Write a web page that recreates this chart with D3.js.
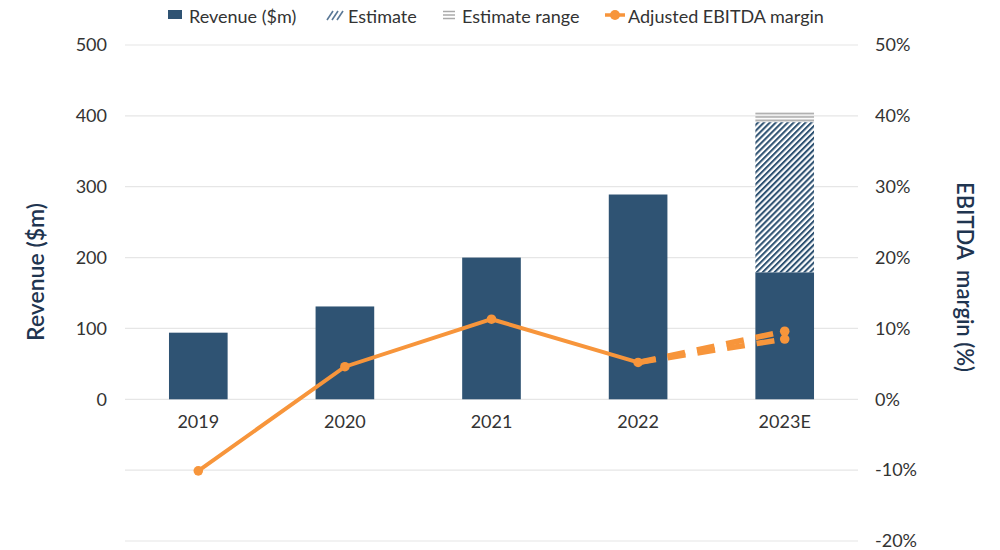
<!DOCTYPE html>
<html><head><meta charset="utf-8">
<script src="https://cdn.jsdelivr.net/npm/d3@7"></script>
<style>body{margin:0;background:#fff;font-family:Lato,"Noto Sans",sans-serif;}</style>
</head><body><svg id="c" width="1000" height="550"></svg>
<script>
const categories = ["2019","2020","2021","2022","2023E"];
const revenue = [94, 131, 200, 289, 179];
const estimateTop = [null, null, null, null, 391];
const rangeTop = [null, null, null, null, 405];
const margin = [-10.1, 4.6, 11.3, 5.2, null];
const marginEstimate = [9.6, 8.5];
const leftTicks = [0, 100, 200, 300, 400, 500];
const rightTicks = [-20, -10, 0, 10, 20, 30, 40, 50];

const svg = d3.select("#c");
const L = 125, R = 858, T = 45, B = 541;
const x = d3.scaleBand().domain(categories).range([L, R]).paddingInner(0.6).paddingOuter(0.3);
const y = d3.scaleLinear().domain([-200, 500]).range([B, T]);
const y2 = d3.scaleLinear().domain([-20, 50]).range([B, T]);
const barColor = "#2f5373", orange = "#f7953b", txt = "#333";

const defs = svg.append("defs");
const hp = defs.append("pattern").attr("id","hatch").attr("patternUnits","userSpaceOnUse")
  .attr("width",4.2).attr("height",4.2).attr("patternTransform","rotate(45)");
hp.append("rect").attr("width",4.2).attr("height",4.2).attr("fill","#fff");
hp.append("line").attr("x1",1).attr("y1",0).attr("x2",1).attr("y2",4.2).attr("stroke",barColor).attr("stroke-width",2.1);
const rp = defs.append("pattern").attr("id","range").attr("patternUnits","userSpaceOnUse")
  .attr("width",4).attr("height",3.5);
rp.append("rect").attr("width",4).attr("height",3.5).attr("fill","#fff");
rp.append("rect").attr("y",0.5).attr("width",4).attr("height",1.8).attr("fill","#aaa");

// grid
svg.append("g").selectAll("line").data(rightTicks).join("line")
  .attr("x1",L).attr("x2",R).attr("y1",d=>y2(d)).attr("y2",d=>y2(d))
  .attr("stroke","#e6e6e6").attr("stroke-width",1.2);

// axes
const ax = svg.append("g").attr("transform",`translate(107,0)`)
  .call(d3.axisLeft(y).tickValues(leftTicks).tickSize(0).tickPadding(0));
const ax2 = svg.append("g").attr("transform",`translate(875,0)`)
  .call(d3.axisRight(y2).tickValues(rightTicks).tickSize(0).tickPadding(0).tickFormat(d=>d+"%"));
const axx = svg.append("g").attr("transform",`translate(0,${y(0)})`)
  .call(d3.axisBottom(x).tickSize(0).tickPadding(16));
[ax,ax2,axx].forEach(a=>{a.select(".domain").remove();
  a.selectAll("text").attr("fill",txt).style("font-size","18px").style("font-family","Lato");});

// bars
const bw = x.bandwidth();
svg.append("g").selectAll("rect.r").data(categories.map((c,i)=>({c,v:rangeTop[i],b:estimateTop[i]}))
  .filter(d=>d.v!=null)).join("rect")
  .attr("x",d=>x(d.c)).attr("width",bw).attr("y",d=>y(d.v)).attr("height",d=>y(d.b)-y(d.v)).attr("fill","url(#range)");
svg.append("g").selectAll("rect.e").data(categories.map((c,i)=>({c,v:estimateTop[i],b:revenue[i]}))
  .filter(d=>d.v!=null)).join("rect")
  .attr("x",d=>x(d.c)).attr("width",bw).attr("y",d=>y(d.v)).attr("height",d=>y(d.b)-y(d.v)).attr("fill","url(#hatch)");
svg.append("g").selectAll("rect").data(categories.map((c,i)=>({c,v:revenue[i]}))).join("rect")
  .attr("x",d=>x(d.c)).attr("width",bw).attr("y",d=>y(d.v)).attr("height",d=>y(0)-y(d.v)).attr("fill",barColor);

// line
const cx = c => x(c)+bw/2;
const pts = categories.map((c,i)=>({c,v:margin[i]})).filter(d=>d.v!=null);
const line = d3.line().x(d=>cx(d.c)).y(d=>y2(d.v));
svg.append("path").datum(pts).attr("d",line).attr("fill","none").attr("stroke",orange).attr("stroke-width",4);
const last = pts[pts.length-1];
marginEstimate.forEach(v=>{
  const seg=[last,{c:categories[4],v}];
  svg.append("path").datum(seg).attr("d",line).attr("fill","none").attr("stroke",orange)
    .attr("stroke-width",5.5).attr("stroke-dasharray","18,12");
});
svg.append("g").selectAll("circle").data(pts.concat(marginEstimate.map(v=>({c:categories[4],v})))).join("circle")
  .attr("cx",d=>cx(d.c)).attr("cy",d=>y2(d.v)).attr("r",4.8).attr("fill",orange);

// axis titles
svg.append("text").attr("transform",`translate(44,272) rotate(-90)`).attr("text-anchor","middle")
  .attr("fill","#1f3550").style("font-size","23px").style("font-weight","600").text("Revenue ($m)");
svg.append("text").attr("transform",`translate(957,277) rotate(90)`).attr("text-anchor","middle")
  .attr("xml:space","preserve").style("white-space","pre")
  .attr("fill","#1f3550").style("font-size","22px").style("font-weight","600").text("EBITDA  margin (%)");

// legend
const lg = svg.append("g").style("font-size","18px").attr("fill",txt);
lg.append("rect").attr("x",168).attr("y",10).attr("width",14).attr("height",9).attr("fill",barColor);
lg.append("text").attr("x",189).attr("y",23).text("Revenue ($m)");
[0,5,10].forEach(o=>lg.append("line").attr("x1",327+o).attr("y1",20).attr("x2",333+o).attr("y2",11).attr("stroke","#5a7896").attr("stroke-width",1.6));
lg.append("text").attr("x",348).attr("y",23).text("Estimate");
[11.5,15,18.5].forEach(o=>lg.append("line").attr("x1",443).attr("x2",455).attr("y1",o).attr("y2",o).attr("stroke","#aaa").attr("stroke-width",1.5));
lg.append("text").attr("x",462).attr("y",23).text("Estimate range");
lg.append("line").attr("x1",605).attr("x2",625).attr("y1",15).attr("y2",15).attr("stroke",orange).attr("stroke-width",3.5);
lg.append("circle").attr("cx",615).attr("cy",15).attr("r",5).attr("fill",orange);
lg.append("text").attr("x",628).attr("y",23).text("Adjusted EBITDA margin");
</script></body></html>
